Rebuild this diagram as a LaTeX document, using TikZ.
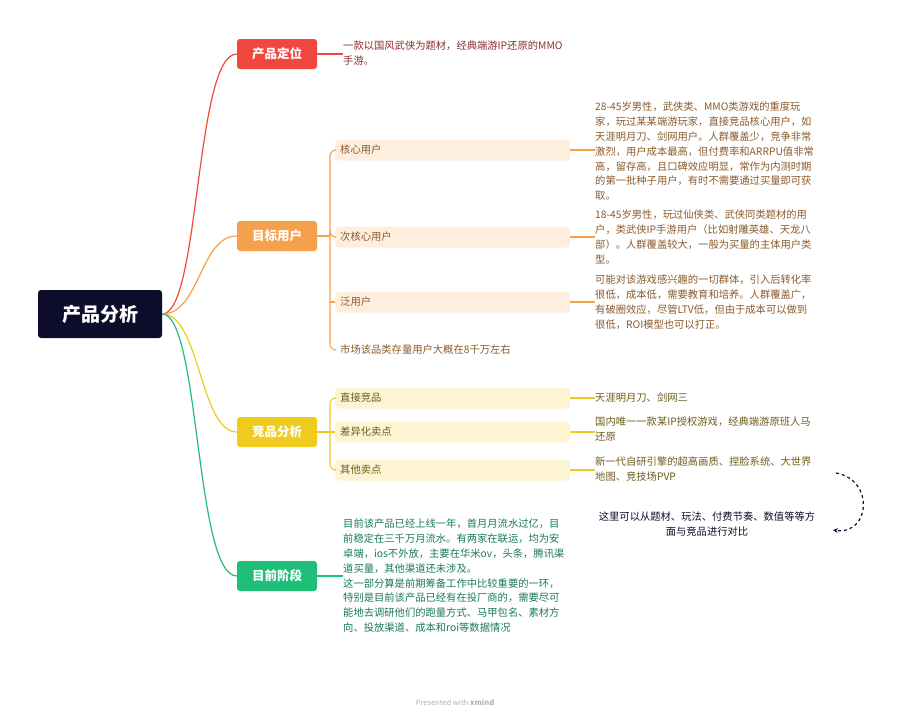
\documentclass[tikz,border=0pt]{standalone}
\usepackage{fontspec}
\setmainfont{Noto Sans CJK SC}
\begin{document}
\begin{tikzpicture}[x=1pt,y=-1pt,
 root/.style={fill=rootc,rounded corners=3pt,minimum width=124pt,minimum height=48pt,text=white,font=\fontsize{19}{22}\selectfont\bfseries},
 br/.style={rounded corners=3pt,minimum width=80pt,minimum height=30pt,text=white,font=\fontsize{12.5}{14}\selectfont\bfseries},
 sub/.style={fill=#1,rounded corners=4pt,minimum width=235pt,minimum height=21pt,anchor=west,text width=225pt,align=left,font=\fontsize{10.3}{12}\selectfont,inner sep=4pt},
 leaf/.style={anchor=north west,align=left,font=\fontsize{10.3}{14.8}\selectfont,inner sep=0pt},
 ln/.style={line width=1.1pt,rounded corners=6pt}]
\definecolor{rootc}{HTML}{0D0D2B}
\definecolor{cr}{HTML}{F0483E}\definecolor{co}{HTML}{F5A04A}
\definecolor{cy}{HTML}{EFCB1E}\definecolor{cg}{HTML}{1FBF7A}
\definecolor{tr}{HTML}{8B2E2E}\definecolor{to}{HTML}{8A5A2C}
\definecolor{ty}{HTML}{6E5C1C}\definecolor{tg}{HTML}{1A7A52}
\definecolor{bo}{HTML}{FDEEDD}\definecolor{by}{HTML}{FCF4D2}
\useasboundingbox (0,0) rectangle (908,720);
\node[root] (r) at (100,314) {产品分析};
\node[br,fill=cr] (b1) at (277,54) {产品定位};
\node[br,fill=co] (b2) at (277,236) {目标用户};
\node[br,fill=cy] (b3) at (277,432) {竞品分析};
\node[br,fill=cg] (b4) at (277,576) {目前阶段};
\draw[cr,line width=1.2pt] (r.east) .. controls (200,314) and (195,54) .. (b1.west);
\draw[co,line width=1.2pt] (r.east) .. controls (200,314) and (200,236) .. (b2.west);
\draw[cy,line width=1.2pt] (r.east) .. controls (200,314) and (200,432) .. (b3.west);
\draw[cg,line width=1.2pt] (r.east) .. controls (200,314) and (195,576) .. (b4.west);
% b1
\node[leaf,text=tr] (l1) at (343,41) {一款以国风武侠为题材，经典端游IP还原的MMO\\手游。};
\draw[cr,ln] (b1.east) -- (l1.west|-b1.east);
% b2
\node[sub=bo,text=to] (s1) at (335,150) {核心用户};
\node[sub=bo,text=to] (s2) at (335,237) {次核心用户};
\node[sub=bo,text=to] (s3) at (335,302) {泛用户};
\node[sub=white,text=to] (s4) at (335,350) {市场该品类存量用户大概在8千万左右};
\coordinate (j2) at (330,236);
\draw[co,ln] (b2.east) -- (j2);
\draw[co,ln] (j2) |- (s1.west);
\draw[co,ln] (j2) |- (s2.west);
\draw[co,ln] (j2) |- (s4.west);
\draw[co,ln] (j2|-s3.west) -- (s3.west);
\node[leaf,text=to] (t1) at (595,102) {28-45岁男性，武侠类、MMO类游戏的重度玩\\家，玩过某某端游玩家，直接竞品核心用户，如\\天涯明月刀、剑网用户。人群覆盖少，竞争非常\\激烈，用户成本最高，但付费率和ARRPU值非常\\高，留存高，且口碑效应明显，常作为内测时期\\的第一批种子用户，有时不需要通过买量即可获\\取。};
\node[leaf,text=to] (t2) at (595,210) {18-45岁男性，玩过仙侠类、武侠同类题材的用\\户，类武侠IP手游用户（比如射雕英雄、天龙八\\部）。人群覆盖较大，一般为买量的主体用户类\\型。};
\node[leaf,text=to] (t3) at (595,275) {可能对该游戏感兴趣的一切群体，引入后转化率\\很低，成本低，需要教育和培养。人群覆盖广，\\有破圈效应，尽管LTV低，但由于成本可以做到\\很低，ROI模型也可以打正。};
\draw[co,line width=1.1pt] (s1.east) -- (t1.west|-s1.east);
\draw[co,line width=1.1pt] (s2.east) -- (t2.west|-s2.east);
\draw[co,line width=1.1pt] (s3.east) -- (t3.west|-s3.east);
% b3
\node[sub=by,text=ty] (c1) at (335,398) {直接竞品};
\node[sub=by,text=ty] (c2) at (335,432) {差异化卖点};
\node[sub=by,text=ty] (c3) at (335,470) {其他卖点};
\coordinate (j3) at (330,432);
\draw[cy,ln] (b3.east) -- (c2.west);
\draw[cy,ln] (j3) |- (c1.west);
\draw[cy,ln] (j3) |- (c3.west);
\node[leaf,text=ty,anchor=west] (d1) at (595,398) {天涯明月刀、剑网三};
\node[leaf,text=ty] (d2) at (595,417) {国内唯一一款某IP授权游戏，经典端游原班人马\\还原};
\node[leaf,text=ty] (d3) at (595,457) {新一代自研引擎的超高画质、捏脸系统、大世界\\地图、竞技场PVP};
\draw[cy,line width=1.1pt] (c1.east) -- (d1.west);
\draw[cy,line width=1.1pt] (c2.east) -- (d2.west|-c2.east);
\draw[cy,line width=1.1pt] (c3.east) -- (d3.west|-c3.east);
\node[align=center,font=\fontsize{10.3}{14.8}\selectfont,text=rootc] (cm) at (707,524) {这里可以从题材、玩法、付费节奏、数值等等方\\面与竞品进行对比};
\coordinate (a1) at (836,473);
\coordinate (a2) at (833,530);
\draw[rootc,dashed,line width=1.2pt,-stealth] (a1) .. controls (875,480) and (870,535) .. (a2);
% b4
\node[leaf,text=tg] (g1) at (343,519) {目前该产品已经上线一年，首月月流水过亿，目\\前稳定在三千万月流水。有两家在联运，均为安\\卓端，ios不外放，主要在华米ov，头条，腾讯渠\\道买量，其他渠道还未涉及。\\这一部分算是前期筹备工作中比较重要的一环，\\特别是目前该产品已经有在投厂商的，需要尽可\\能地去调研他们的跑量方式、马甲包名、素材方\\向、投放渠道、成本和roi等数据情况};
\draw[cg,ln] (b4.east) -- (g1.west|-b4.east);
\node[font=\fontsize{7.5}{8}\selectfont,text=gray!60] (ft) at (455,702) {Presented with \textbf{xmind}};
\end{tikzpicture}
\end{document}
